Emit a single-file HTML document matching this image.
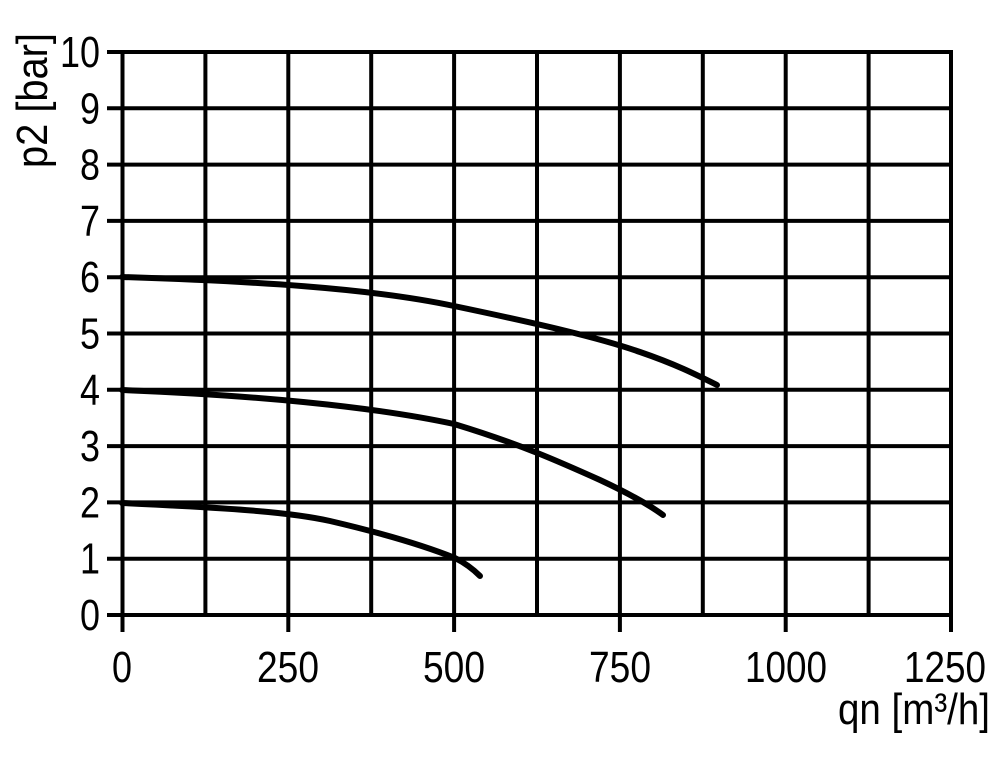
<!DOCTYPE html>
<html><head><style>html,body{margin:0;padding:0;background:#fff;}svg{display:block}</style></head>
<body>
<svg width="1000" height="764" viewBox="0 0 1000 764" xmlns="http://www.w3.org/2000/svg">
<g stroke="#000" stroke-width="4" fill="none">
<line x1="107" y1="52" x2="953" y2="52"/>
<line x1="107" y1="108.3" x2="953" y2="108.3"/>
<line x1="107" y1="164.6" x2="953" y2="164.6"/>
<line x1="107" y1="220.9" x2="953" y2="220.9"/>
<line x1="107" y1="277.2" x2="953" y2="277.2"/>
<line x1="107" y1="333.5" x2="953" y2="333.5"/>
<line x1="107" y1="389.8" x2="953" y2="389.8"/>
<line x1="107" y1="446.1" x2="953" y2="446.1"/>
<line x1="107" y1="502.4" x2="953" y2="502.4"/>
<line x1="107" y1="558.7" x2="953" y2="558.7"/>
<line x1="107" y1="615" x2="953" y2="615"/>
<line x1="122.5" y1="50" x2="122.5" y2="632"/>
<line x1="205.4" y1="50" x2="205.4" y2="617"/>
<line x1="288.3" y1="50" x2="288.3" y2="632"/>
<line x1="371.2" y1="50" x2="371.2" y2="617"/>
<line x1="454.1" y1="50" x2="454.1" y2="632"/>
<line x1="537" y1="50" x2="537" y2="617"/>
<line x1="619.9" y1="50" x2="619.9" y2="632"/>
<line x1="702.8" y1="50" x2="702.8" y2="617"/>
<line x1="785.7" y1="50" x2="785.7" y2="632"/>
<line x1="868.6" y1="50" x2="868.6" y2="617"/>
<line x1="951" y1="50" x2="951" y2="632"/>
</g>
<g stroke="#000" stroke-width="6" fill="none" stroke-linecap="round" stroke-linejoin="round">
<path d="M122,277 C250,281 370,288 454,306 C540,324 600,338 640,352 C675,364 695,374 717,385"/>
<path d="M122,390 C250,395 370,406 454,424 C520,444 560,462 600,480 C630,494 648,504 663,515"/>
<path d="M122,503 C230,508 290,512 330,521 C390,535 430,548 455,558 C467,564 474,570 480,576"/>
</g>
<g font-family="Liberation Sans, sans-serif" font-size="44" fill="#000">
<text x="100" y="67" text-anchor="end" textLength="40" lengthAdjust="spacingAndGlyphs">10</text>
<text x="100" y="123.3" text-anchor="end" textLength="20" lengthAdjust="spacingAndGlyphs">9</text>
<text x="100" y="179.6" text-anchor="end" textLength="20" lengthAdjust="spacingAndGlyphs">8</text>
<text x="100" y="235.9" text-anchor="end" textLength="20" lengthAdjust="spacingAndGlyphs">7</text>
<text x="100" y="292.2" text-anchor="end" textLength="20" lengthAdjust="spacingAndGlyphs">6</text>
<text x="100" y="348.5" text-anchor="end" textLength="20" lengthAdjust="spacingAndGlyphs">5</text>
<text x="100" y="404.8" text-anchor="end" textLength="20" lengthAdjust="spacingAndGlyphs">4</text>
<text x="100" y="461.1" text-anchor="end" textLength="20" lengthAdjust="spacingAndGlyphs">3</text>
<text x="100" y="517.4" text-anchor="end" textLength="20" lengthAdjust="spacingAndGlyphs">2</text>
<text x="100" y="573.7" text-anchor="end" textLength="20" lengthAdjust="spacingAndGlyphs">1</text>
<text x="100" y="630" text-anchor="end" textLength="20" lengthAdjust="spacingAndGlyphs">0</text>
<text x="122" y="682" text-anchor="middle" textLength="20" lengthAdjust="spacingAndGlyphs">0</text>
<text x="288" y="682" text-anchor="middle" textLength="62" lengthAdjust="spacingAndGlyphs">250</text>
<text x="454" y="682" text-anchor="middle" textLength="62" lengthAdjust="spacingAndGlyphs">500</text>
<text x="620" y="682" text-anchor="middle" textLength="62" lengthAdjust="spacingAndGlyphs">750</text>
<text x="786" y="682" text-anchor="middle" textLength="82" lengthAdjust="spacingAndGlyphs">1000</text>
<text x="945" y="682" text-anchor="middle" textLength="82" lengthAdjust="spacingAndGlyphs">1250</text>
<text x="838" y="724" textLength="152" lengthAdjust="spacingAndGlyphs">qn [m³/h]</text>
<text transform="translate(47,168) rotate(-90)" textLength="135" lengthAdjust="spacingAndGlyphs">p2 [bar]</text>
</g>
</svg>
</body></html>
